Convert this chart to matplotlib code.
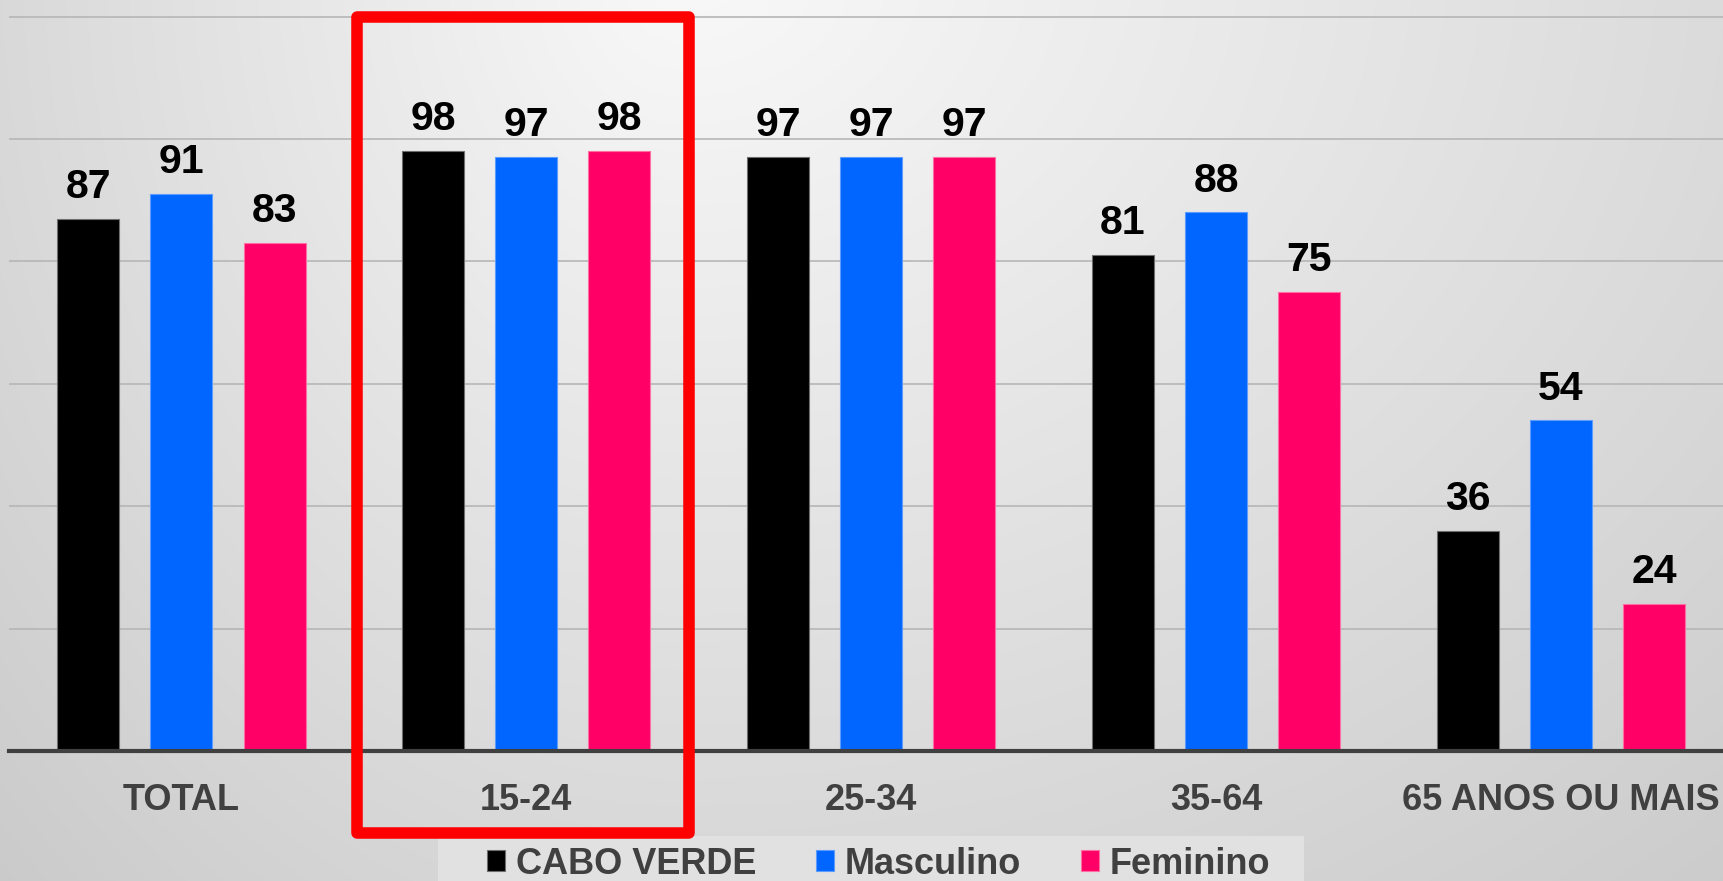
import numpy as np
import matplotlib
matplotlib.use("Agg")
import matplotlib.pyplot as plt
from matplotlib.patches import Rectangle

plt.rcParams['font.family'] = ['Liberation Sans', 'DejaVu Sans']

grupos = ['TOTAL', '15-24', '25-34', '35-64', '65 ANOS OU MAIS']
cabo_verde = [87, 98, 97, 81, 36]
masculino = [91, 97, 97, 88, 54]
feminino = [83, 98, 97, 75, 24]

series = [
    ('CABO VERDE', cabo_verde, '#000000', '#6e6e6e'),
    ('Masculino', masculino, '#0066ff', '#5c9cff'),
    ('Feminino', feminino, '#ff0066', '#ff6fa3'),
]

W, H = 1723, 881
fig = plt.figure(figsize=(W / 100, H / 100), dpi=100)

# fundo em degradê cinzento (mais claro no topo ao centro)
bg = fig.add_axes([0, 0, 1, 1], zorder=-2)
yy, xx = np.mgrid[0:H, 0:W]
dx = xx - 680.0
dx = np.where(dx < 0, dx / 700.0, dx / 1150.0)
dy = (yy + 40.0) / 900.0
v = np.clip(249 - 33 * np.sqrt(dx ** 2 + dy ** 2), 196, 255) / 255.0
bg.imshow(np.dstack([v, v, v]), extent=(0, W, H, 0), aspect='auto')
bg.set_xlim(0, W)
bg.set_ylim(H, 0)
bg.axis('off')

# caixa clara da legenda
bg.add_patch(Rectangle((438, 836), 866, 60, facecolor='#e1e1e1', edgecolor='none'))

ax = fig.add_axes([9 / W, 130 / H, 1 - 9 / W, 751 / H], zorder=1)
ax.set_facecolor('none')

x = np.arange(len(grupos))
largura = 0.18
passo = 0.27
barras = []
for i, (nome, vals, cor, borda) in enumerate(series):
    b = ax.bar(x + (i - 1) * passo, vals, largura, color=cor, edgecolor=borda,
               linewidth=0.8, label=nome, zorder=3)
    barras.append(b)
    for xi, val in zip(x + (i - 1) * passo, vals):
        ax.annotate(f'{val}', (xi, val), xytext=(0, 15), textcoords='offset points',
                    ha='center', va='baseline', fontsize=29.5, fontweight='bold',
                    color='black', zorder=4)

ax.set_xlim(-0.5, 4.47)
ax.set_ylim(0, 122.7)
ax.set_yticks(range(0, 121, 20))
ax.yaxis.grid(True, color='#b6b6b6', linewidth=1.2, zorder=0)
ax.set_axisbelow(True)
ax.tick_params(axis='y', length=0, labelleft=False)
ax.set_xticks(x)
ax.set_xticklabels(grupos, fontsize=26, fontweight='bold', color='#404040')
ax.tick_params(axis='x', length=0, pad=23)
for s in ['top', 'right', 'left']:
    ax.spines[s].set_visible(False)
ax.spines['bottom'].set_color('#404040')
ax.spines['bottom'].set_linewidth(3)
ax.spines['bottom'].set_zorder(5)

# destaque do grupo 15-24
ax.add_patch(Rectangle((0.509, -13.4), 0.962, 133.3, fill=False, edgecolor='#ff0000',
                       linewidth=8.3, joinstyle='round', clip_on=False, zorder=6))

leg = fig.legend(handles=barras, loc='center left', bbox_to_anchor=(487 / W, 1 - 864 / H),
                 ncol=3, frameon=False, borderpad=0, borderaxespad=0,
                 handlelength=0.5, handleheight=0.5, handletextpad=0.3,
                 columnspacing=1.65, prop={'size': 26, 'weight': 'bold'})
for t in leg.get_texts():
    t.set_color('#404040')

fig.savefig('out.png', dpi=100)
